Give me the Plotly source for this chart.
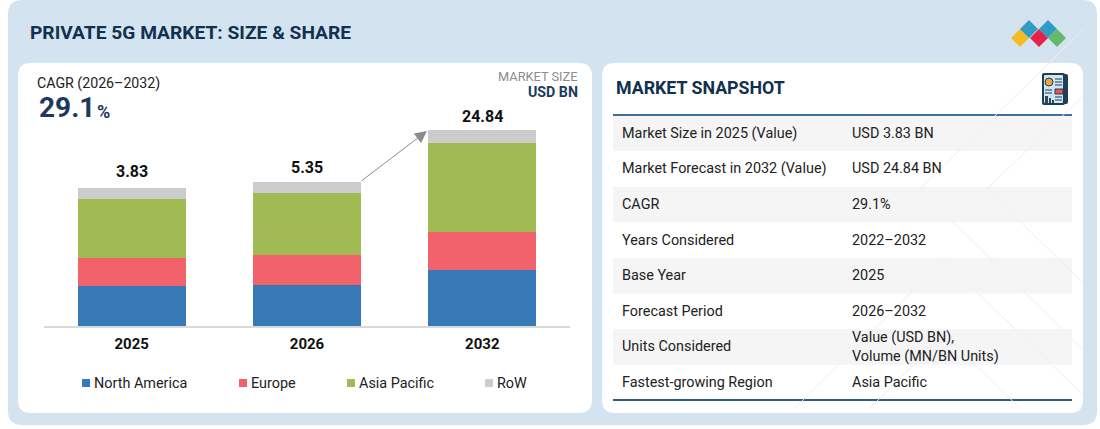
# %%
import plotly.graph_objects as go

W, H = 1100, 429

years = ["2025", "2026", "2032"]
regions = ["North America", "Europe", "Asia Pacific", "RoW"]
# the bars are not to scale with their labels, so the stacks are read as drawn,
# in units where the 2032 bar is 24.84 high
north_america = [5.01, 5.20, 7.10]
europe = [3.61, 3.80, 4.82]
asia_pacific = [7.48, 7.86, 11.28]
row = [1.33, 1.39, 1.65]
total_labels = ["3.83", "5.35", "24.84"]

snapshot_keys = [
    "Market Size in 2025 (Value)",
    "Market Forecast in 2032 (Value)",
    "CAGR",
    "Years Considered",
    "Base Year",
    "Forecast Period",
    "Units Considered",
    "Fastest-growing Region",
]
snapshot_values = [
    "USD 3.83 BN",
    "USD 24.84 BN",
    "29.1%",
    "2022–2032",
    "2025",
    "2026–2032",
    "Value (USD BN),<br>Volume (MN/BN Units)",
    "Asia Pacific",
]

colors = ["#3778b6", "#f1626b", "#a0bb53", "#cccccc"]
NAVY = "#12304f"
FONT = "Roboto"


def fx(x):
    return x / W


def fy(y):
    return 1 - y / H


def rounded(x0, y0, x1, y1, r):
    return (
        f"M{fx(x0 + r)},{fy(y0)} L{fx(x1 - r)},{fy(y0)} Q{fx(x1)},{fy(y0)} {fx(x1)},{fy(y0 + r)} "
        f"L{fx(x1)},{fy(y1 - r)} Q{fx(x1)},{fy(y1)} {fx(x1 - r)},{fy(y1)} "
        f"L{fx(x0 + r)},{fy(y1)} Q{fx(x0)},{fy(y1)} {fx(x0)},{fy(y1 - r)} "
        f"L{fx(x0)},{fy(y0 + r)} Q{fx(x0)},{fy(y0)} {fx(x0 + r)},{fy(y0)} Z"
    )


shapes = []
annotations = []


def box(x0, y0, x1, y1, r=0, fill="#ffffff", line=None):
    shapes.append(
        dict(
            type="path",
            path=rounded(x0, y0, x1, y1, r),
            xref="paper",
            yref="paper",
            fillcolor=fill,
            line=dict(width=0) if line is None else line,
            layer="below",
        )
    )


def rule(x0, y0, x1, y1, color, width=1):
    shapes.append(
        dict(
            type="line",
            xref="paper",
            yref="paper",
            x0=fx(x0),
            y0=fy(y0),
            x1=fx(x1),
            y1=fy(y1),
            line=dict(color=color, width=width),
            layer="below",
        )
    )


def diamond(cx, cy, r, fill):
    shapes.append(
        dict(
            type="path",
            path=f"M{fx(cx - r)},{fy(cy)} L{fx(cx)},{fy(cy - r)} L{fx(cx + r)},{fy(cy)} L{fx(cx)},{fy(cy + r)} Z",
            xref="paper",
            yref="paper",
            fillcolor=fill,
            line=dict(width=0),
            layer="below",
        )
    )


# annotations carry 2px of padding, taken off here so x is where the ink starts
def label(x, y, text, size, color="#222222", bold=False, anchor="left"):
    annotations.append(
        dict(
            x=fx(x - 2 if anchor == "left" else x + 2),
            y=fy(y),
            xref="paper",
            yref="paper",
            text=f"<b>{text}</b>" if bold else text,
            showarrow=False,
            xanchor=anchor,
            yanchor="middle",
            align="left",
            font=dict(family=FONT, size=size, color=color),
        )
    )


# panels
box(8, 0, 1097, 425, 14, "#d4e3f0")
rule(1049, 63, 1090, 23, "rgba(255,255,255,0.25)", 1)
box(18, 63, 592, 413, 13)
box(602, 63, 1083, 413, 13)

# header
label(30, 33, "PRIVATE 5G MARKET: SIZE &amp; SHARE", 19.2, NAVY, True)
for cx, cy, fill in [(1020, 38, "#f6bb23"), (1029, 29, "#2f9cc4"), (1048, 29, "#2f9cc4"),
                     (1039, 38, "#e5234a"), (1057, 38, "#64b96a")]:
    diamond(cx, cy, 9, fill)

# left panel text
label(37, 83, "CAGR (2026–2032)", 14.2, "#222222")
label(39, 107, "29.1", 28, "#1b3a5c", True)
label(97, 111, "%", 18, "#1b3a5c", True)
label(578, 76.5, "MARKET SIZE", 12.8, "#8c8c8c", anchor="right")
label(578, 92, "USD BN", 14.2, "#1b3a5c", True, anchor="right")

# legend drawn by hand, its gaps are tighter than plotly's own
for name, color, x in zip(regions, colors, [82, 239, 347, 485]):
    box(x, 379, x + 8, 387, 0, color)
    label(x + 12, 383, name, 14.4, "#222222")

# growth arrow between the 2026 and 2032 bars
annotations.append(
    dict(
        x=fx(427),
        y=fy(131),
        ax=-67,
        ay=51,
        xref="paper",
        yref="paper",
        text="",
        showarrow=True,
        arrowhead=2,
        arrowsize=2.4,
        arrowwidth=1,
        arrowcolor="#8c8c8c",
    )
)

# snapshot table
label(616, 88, "MARKET SNAPSHOT", 17.8, NAVY, True)
for i, (k, v) in enumerate(zip(snapshot_keys, snapshot_values)):
    top = 115.5 + 35.6 * i
    if i % 2 == 0:
        box(613, top, 1072, top + 35.6, 0, "#f5f5f5")
    label(622, top + 17.8, k, 14.4)
    label(852, top + 17.8, v, 14.4)
rule(613, 115, 1072, 115, "#3f6f9e", 2)
rule(613, 400, 1072, 400, "#2f5d80", 2)

# faint diamonds over the table
for a, b in [((920, 189), (1083, 30)), ((987, 189), (1083, 96)), ((920, 189), (1083, 350)),
             ((987, 189), (1083, 283)), ((944, 260), (795, 408)), ((944, 260), (1083, 395)),
             ((870, 408), (944, 335)), ((944, 335), (1020, 408))]:
    rule(*a, *b, "#eceef1", 1)
box(1083, 20, 1097, 63, 0, "#d4e3f0")

# snapshot icon
box(1046, 74, 1068, 104, 2, "#1d3f57")
box(1042, 73, 1065, 105, 2, "#1d3f57")
box(1044, 75, 1063, 103, 1, "#cfe6f2")
shapes.append(
    dict(type="circle", xref="paper", yref="paper", x0=fx(1045), y0=fy(86), x1=fx(1053), y1=fy(78),
         fillcolor="#f2a33a", line=dict(color="#1d3f57", width=1), layer="below")
)
box(1055, 89, 1063, 94, 0, "#e8575a", dict(color="#1d3f57", width=1))
for y in [79, 82, 85, 97, 100]:
    rule(1055, y, 1062, y, "#1d3f57", 1)
for y in [90, 93]:
    rule(1045, y, 1052, y, "#1d3f57", 1)
box(1045, 96, 1048, 103, 0, "#33485a")
box(1049, 98, 1051, 103, 0, "#33485a")
box(1052, 100, 1054, 103, 0, "#33485a")

# %%
fig = go.Figure()
for name, values, color in zip(regions, [north_america, europe, asia_pacific, row], colors):
    fig.add_trace(go.Bar(name=name, x=years, y=values, marker=dict(color=color, line=dict(width=0))))

# totals sit on top of each stack, at the gaps the picture leaves
# x is the category index: a year string would be read as a position on the axis
totals = [sum(v) for v in zip(north_america, europe, asia_pacific, row)]
for i, (total, text, lift) in enumerate(zip(totals, total_labels, [16.5, 14, 13.5])):
    annotations.append(
        dict(
            x=i,
            y=total,
            xref="x",
            yref="y",
            text=f"<b>{text}</b>",
            showarrow=False,
            yanchor="middle",
            yshift=lift,
            font=dict(family=FONT, size=16, color="#111111"),
        )
    )

fig.update_layout(
    width=W,
    height=H,
    margin=dict(l=0, r=0, t=0, b=0),
    barmode="stack",
    bargap=0.383,
    showlegend=False,
    paper_bgcolor="#ffffff",
    plot_bgcolor="rgba(0,0,0,0)",
    shapes=shapes,
    annotations=annotations,
    font=dict(family=FONT),
)
fig.update_xaxes(
    domain=[fx(44), fx(570)],
    range=[-0.5, 2.5],
    type="category",
    showline=True,
    linecolor="#d9d9d9",
    linewidth=1.5,
    ticks="",
    ticklabelstandoff=3,
    tickfont=dict(family=FONT, size=15, color="#111111"),
    tickprefix="<b>",
    ticksuffix="</b>",
    showgrid=False,
)
fig.update_yaxes(domain=[fy(326), fy(63)], range=[0, 33.33], visible=False)

fig.write_html(
    "out.html",
    config={"displayModeBar": False},
    post_script="document.body.style.margin='0'",
)
